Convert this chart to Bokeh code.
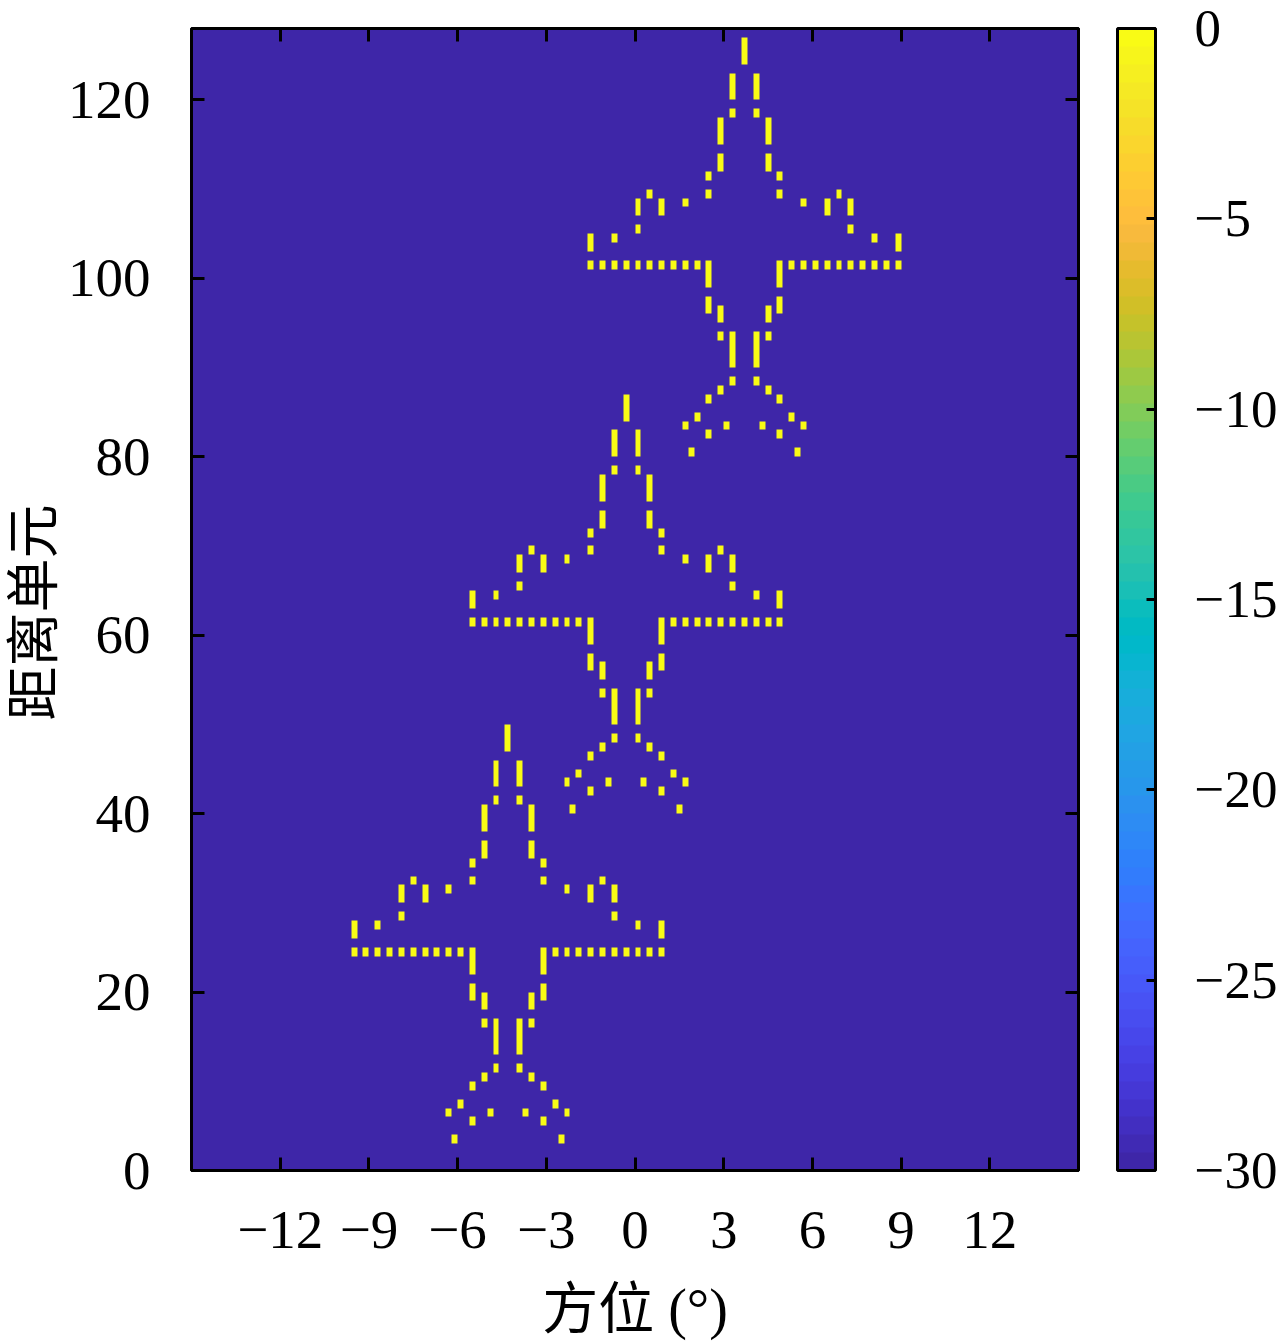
from bokeh.plotting import figure
from bokeh.models import LinearColorMapper, ColorBar, FixedTicker, LinearAxis, Range1d, Title
from bokeh.embed import file_html
from bokeh.resources import INLINE
import numpy as np

# chart data
azimuth_ticks = [-12, -9, -6, -3, 0, 3, 6, 9, 12]
azimuth_labels = ["−12", "−9", "−6", "−3", "0", "3", "6", "9", "12"]
range_ticks = [0, 20, 40, 60, 80, 100, 120]
range_labels = ["0", "20", "40", "60", "80", "100", "120"]
cbar_ticks = [-30, -25, -20, -15, -10, -5, 0]
cbar_labels = ["−30", "−25", "−20", "−15", "−10", "−5", "0"]

n_range_cells = 128
n_azimuth_cells = 150
azimuth_min, azimuth_max = -15, 15
level_floor = -30
level_target = 0

# aircraft centre-line azimuth cell and range-cell shift for each of the three targets
target_centre_cells = [53, 73, 93]
target_range_shifts = [-77, -40, 0]

# scatterers of one aircraft: cell offset from its centre-line, mirrored, and the range cells
scatterer_offsets = [0, 2, 3, 4, 6, 8, 9, 10, 12, 14, 16, 18, 20, 22, 24, 26]
scatterer_rows = [
    [124, 125, 126],
    [88, 90, 91, 92, 93, 118, 120, 121, 122],
    [83],
    [87, 93, 95, 96, 112, 113, 115, 116, 117],
    [82, 86, 96, 97, 99, 100, 101, 109, 111],
    [84, 101],
    [80],
    [83, 101, 108],
    [101],
    [101, 107, 108],
    [101, 109],
    [101, 105, 107, 108],
    [101],
    [101, 104],
    [101],
    [101, 103, 104],
]

parula_rgb = [
    (0.2422,0.1504,0.6603),(0.2504,0.1650,0.7076),(0.2578,0.1818,0.7511),(0.2647,0.1978,0.7952),
    (0.2706,0.2147,0.8364),(0.2751,0.2342,0.8710),(0.2783,0.2559,0.8991),(0.2803,0.2782,0.9221),
    (0.2813,0.3006,0.9414),(0.2810,0.3228,0.9579),(0.2795,0.3447,0.9717),(0.2760,0.3667,0.9829),
    (0.2699,0.3892,0.9906),(0.2602,0.4123,0.9952),(0.2440,0.4358,0.9988),(0.2206,0.4603,0.9973),
    (0.1963,0.4847,0.9892),(0.1834,0.5074,0.9798),(0.1786,0.5289,0.9682),(0.1764,0.5499,0.9520),
    (0.1687,0.5703,0.9359),(0.1540,0.5902,0.9218),(0.1460,0.6091,0.9079),(0.1380,0.6276,0.8973),
    (0.1248,0.6459,0.8883),(0.1113,0.6635,0.8763),(0.0952,0.6798,0.8598),(0.0689,0.6948,0.8394),
    (0.0297,0.7082,0.8163),(0.0036,0.7203,0.7917),(0.0067,0.7312,0.7660),(0.0433,0.7411,0.7394),
    (0.0964,0.7500,0.7120),(0.1408,0.7584,0.6842),(0.1717,0.7670,0.6554),(0.1938,0.7758,0.6251),
    (0.2161,0.7843,0.5923),(0.2470,0.7918,0.5567),(0.2906,0.7973,0.5188),(0.3406,0.8008,0.4789),
    (0.3909,0.8029,0.4354),(0.4456,0.8024,0.3909),(0.5044,0.7993,0.3480),(0.5616,0.7942,0.3045),
    (0.6174,0.7876,0.2612),(0.6720,0.7793,0.2227),(0.7242,0.7698,0.1910),(0.7738,0.7598,0.1646),
    (0.8203,0.7498,0.1535),(0.8634,0.7406,0.1596),(0.9035,0.7330,0.1774),(0.9393,0.7288,0.2100),
    (0.9728,0.7298,0.2394),(0.9956,0.7434,0.2371),(0.9970,0.7659,0.2199),(0.9952,0.7893,0.2028),
    (0.9892,0.8136,0.1885),(0.9786,0.8386,0.1766),(0.9676,0.8639,0.1643),(0.9610,0.8890,0.1537),
    (0.9597,0.9135,0.1423),(0.9628,0.9373,0.1265),(0.9691,0.9606,0.1064),(0.9769,0.9839,0.0805),
]
palette = ["#%02x%02x%02x" % tuple(round(c * 255) for c in rgb) for rgb in parula_rgb]

levels = np.full((n_range_cells, n_azimuth_cells), float(level_floor))
for centre, shift in zip(target_centre_cells, target_range_shifts):
    for offset, rows in zip(scatterer_offsets, scatterer_rows):
        for row in rows:
            levels[row + shift, centre - offset] = level_target
            levels[row + shift, centre + offset] = level_target

FONT = "Liberation Serif"
LABEL_FONT = "'Liberation Serif', 'Noto Sans CJK SC'"
FS = "55px"

p = figure(
    frame_width=887, frame_height=1142,
    x_range=Range1d(azimuth_min, azimuth_max), y_range=Range1d(0, n_range_cells),
    toolbar_location=None, output_backend="svg",
    min_border_left=191, min_border_top=28, min_border_bottom=174, min_border_right=0,
    x_axis_label="方位 (°)",
)
p.grid.visible = False
p.outline_line_color = "black"
p.outline_line_width = 3

mapper = LinearColorMapper(palette=palette, low=level_floor, high=level_target)
p.image(image=[levels], x=azimuth_min, y=0, dw=azimuth_max - azimuth_min, dh=n_range_cells, color_mapper=mapper)

for axis, ticks, labels in [(p.xaxis[0], azimuth_ticks, azimuth_labels), (p.yaxis[0], range_ticks, range_labels)]:
    axis.ticker = FixedTicker(ticks=ticks)
    axis.major_label_overrides = dict(zip(ticks, labels))
    axis.major_label_text_font = FONT
    axis.major_label_text_font_size = FS
    axis.major_label_text_color = "black"
    axis.axis_label_text_font = LABEL_FONT
    axis.axis_label_text_font_size = "56px"
    axis.axis_label_text_font_style = "normal"
    axis.axis_label_text_color = "black"
    axis.major_tick_in = 13
    axis.major_tick_out = 0
    axis.minor_tick_line_color = None
    axis.major_tick_line_width = 3
    axis.major_tick_line_color = "black"
    axis.axis_line_width = 3
    axis.axis_line_color = "black"
p.xaxis[0].major_label_standoff = 41
p.xaxis[0].axis_label_standoff = 27
p.yaxis[0].major_label_standoff = 41

y_title = Title(text="距离单元", align="left", offset=450, standoff=0,
                text_font=LABEL_FONT, text_font_size="54px", text_color="black",
                text_font_style="normal")
p.add_layout(y_title, "left")

top = LinearAxis(ticker=FixedTicker(ticks=azimuth_ticks),
                 major_label_overrides={t: "" for t in azimuth_ticks},
                 major_label_text_font_size="1px",
                 major_tick_in=13, major_tick_out=0, minor_tick_line_color=None,
                 major_tick_line_width=3, axis_line_width=3, major_label_standoff=0)
p.add_layout(top, "above")
right = LinearAxis(ticker=FixedTicker(ticks=range_ticks),
                   major_label_overrides={t: "" for t in range_ticks},
                   major_label_text_font_size="1px",
                   major_tick_in=13, major_tick_out=0, minor_tick_line_color=None,
                   major_tick_line_width=3, axis_line_width=3, major_label_standoff=0)
p.add_layout(right, "right")

cb = ColorBar(
    color_mapper=mapper, ticker=FixedTicker(ticks=cbar_ticks),
    major_label_overrides=dict(zip(cbar_ticks, cbar_labels)),
    width=38, height=1142, margin=0, padding=0,
    major_label_text_font=FONT, major_label_text_font_size="53px", major_label_text_color="black",
    major_tick_in=9, major_tick_out=0, major_tick_line_color="black", major_tick_line_width=3,
    minor_tick_line_color=None, bar_line_color="black", bar_line_width=3,
    label_standoff=39, border_line_color=None, background_fill_color=None,
    location=(39, 0),
)
p.add_layout(cb, "right")

open("out.html", "w").write(file_html(p, INLINE))
